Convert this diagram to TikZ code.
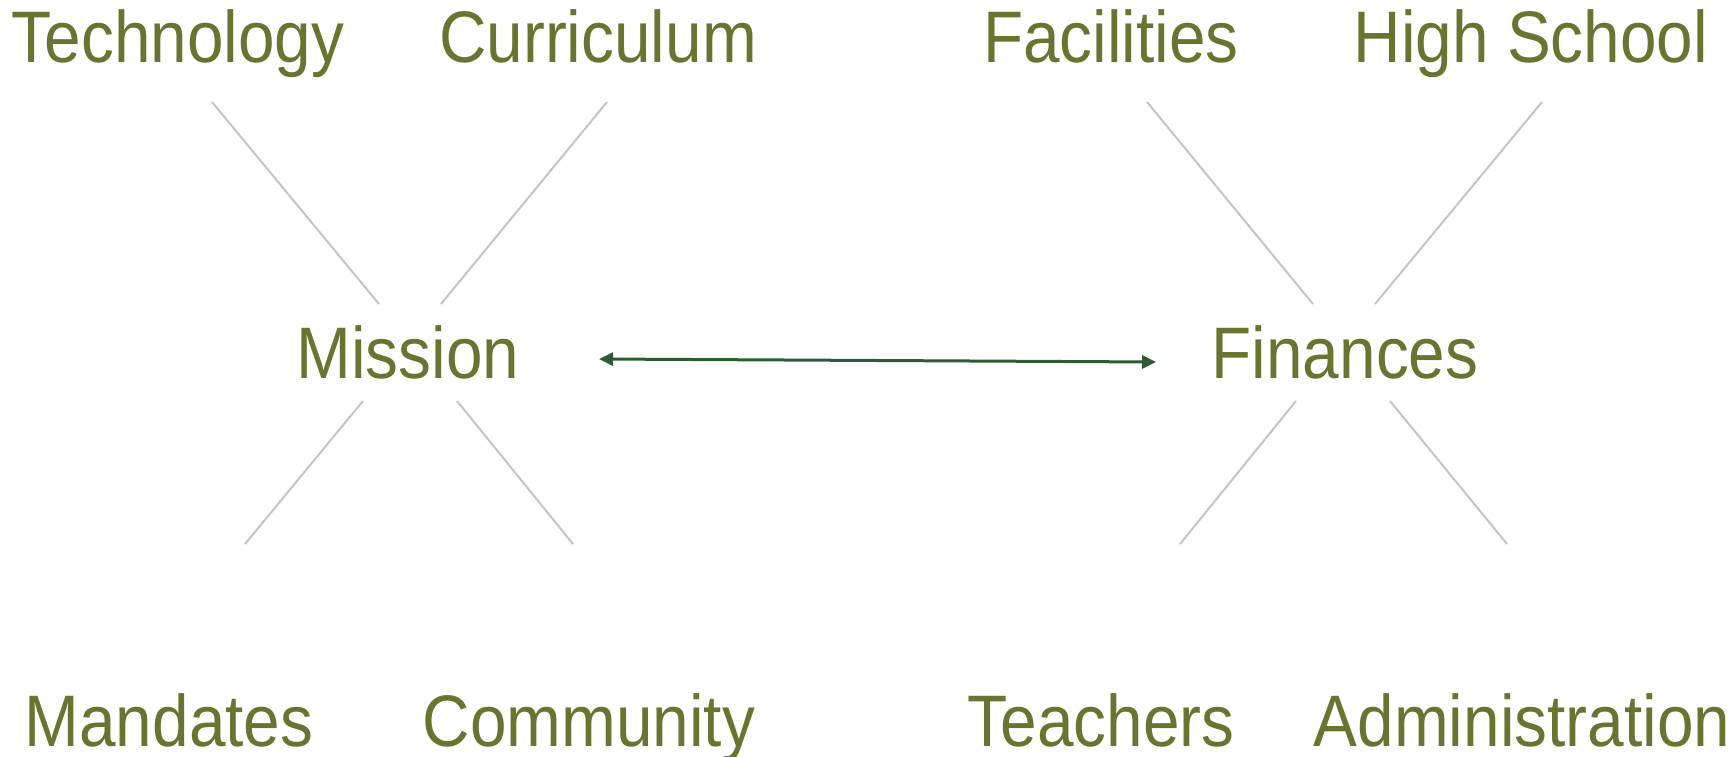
\documentclass[tikz,border=0pt]{standalone}
\usepackage{fontspec}
\setmainfont{Liberation Sans}
\newfontfamily\condfont[FakeStretch=0.9]{Liberation Sans}
\usetikzlibrary{arrows.meta}
\definecolor{olive}{HTML}{6A7430}
\definecolor{spoke}{HTML}{C4C4C4}
\definecolor{arrowgreen}{HTML}{2E5A36}
\tikzset{
  lbl/.style={anchor=base, inner sep=0pt, text=olive, font=\condfont\fontsize{73}{84}\selectfont},
  hub/.style={lbl, fill=white},
  spokeline/.style={draw=spoke, line width=2pt},
  link/.style={draw=arrowgreen, line width=3pt, {Triangle[length=14pt,width=13pt]}-{Triangle[length=14pt,width=13pt]}}
}
\begin{document}
\begin{tikzpicture}[x=1pt,y=-1pt]
\useasboundingbox (0,0) rectangle (1734,757);
% labels
\node[lbl] (tech) at (178,63) {Technology};
\node[lbl] (curr) at (598,63) {Curriculum};
\node[lbl] (faci) at (1111,63) {Facilities};
\node[lbl] (high) at (1531,63) {High School};
\node[lbl] (mand) at (169,746) {Mandates};
\node[lbl] (comm) at (589,746) {Community};
\node[lbl] (teac) at (1101,746) {Teachers};
\node[lbl] (admi) at (1522,746) {Administration};
% hubs
\node[hub] (mission) at (408,378) {Mission};
\node[hub] (finances) at (1345,378) {Finances};
% spoke end points
\coordinate (techA) at (212,102);  \coordinate (techB) at (379,304);
\coordinate (currA) at (607,102);  \coordinate (currB) at (441,304);
\coordinate (mandA) at (245,544);  \coordinate (mandB) at (363,401);
\coordinate (commA) at (573,544);  \coordinate (commB) at (457,401);
\coordinate (faciA) at (1147,102); \coordinate (faciB) at (1313,304);
\coordinate (highA) at (1542,102); \coordinate (highB) at (1375,304);
\coordinate (teacA) at (1180,544); \coordinate (teacB) at (1296,401);
\coordinate (admiA) at (1507,544); \coordinate (admiB) at (1390,401);
\draw[spokeline] (techA) -- (techB);
\draw[spokeline] (currA) -- (currB);
\draw[spokeline] (mandA) -- (mandB);
\draw[spokeline] (commA) -- (commB);
\draw[spokeline] (faciA) -- (faciB);
\draw[spokeline] (highA) -- (highB);
\draw[spokeline] (teacA) -- (teacB);
\draw[spokeline] (admiA) -- (admiB);
% link
\coordinate (linkL) at (599,359);
\coordinate (linkR) at (1156,362);
\draw[link] (linkL) -- (linkR);
\end{tikzpicture}
\end{document}
